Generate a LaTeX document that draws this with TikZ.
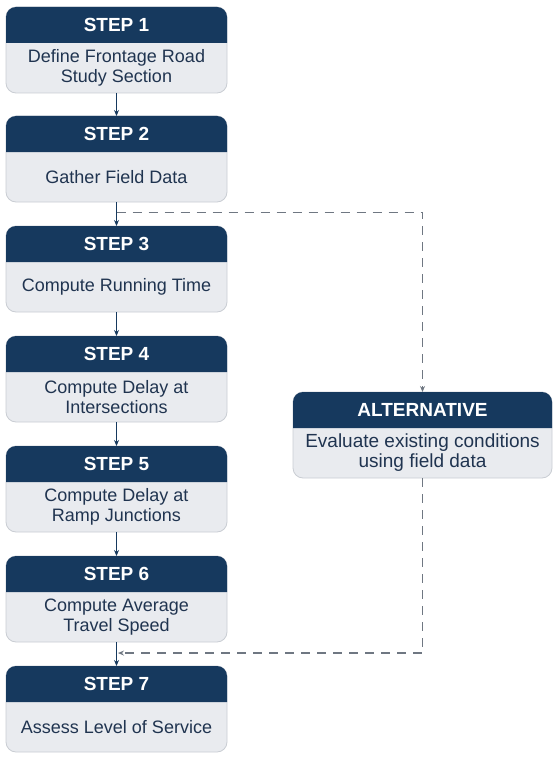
\documentclass[tikz,border=0pt]{standalone}
\usepackage{fontspec}
\setmainfont{Liberation Sans}
\usetikzlibrary{arrows.meta,calc}
\definecolor{navy}{HTML}{16395E}
\definecolor{bodyfill}{HTML}{E9EBEF}
\definecolor{bodyline}{HTML}{C9CDD3}
\definecolor{txt}{HTML}{203450}
\definecolor{dash}{HTML}{6F7782}
\tikzset{
  boxshape/.style={draw=bodyline, fill=bodyfill, line width=0.8pt, rounded corners=10pt,
    minimum width=#1, minimum height=86pt, inner sep=0pt, outer sep=0pt},
  hdrtext/.style={text=white, font=\bfseries\fontsize{19}{21}\selectfont},
  bodytext/.style={text=txt, font=\fontsize{18}{19.5}\selectfont, align=center},
  altbodytext/.style={bodytext, font=\fontsize{19}{20}\selectfont},
  flow/.style={draw=navy, line width=0.9pt, -{Stealth[length=6pt,width=5pt]}},
  altflow/.style={draw=dash, line width=1.1pt, dash pattern=on 9pt off 7pt},
  altarrow/.style={-{Stealth[length=6pt,width=5pt]}}
}
\newcommand\mkstep[7]{% name, cx, top, width, title, body, body style
  \node[boxshape=#4, anchor=north] (#1) at (#2,#3) {};
  \fill[navy] ([yshift=-36pt]#1.north west) {[rounded corners=10pt] -- (#1.north west) -- (#1.north east)} -- ([yshift=-36pt]#1.north east) -- cycle;
  \node[hdrtext] (#1h) at ([yshift=-18pt]#1.north) {#5};
  \node[#7] (#1b) at ([yshift=25pt]#1.south) {#6};
}
\begin{document}
\begin{tikzpicture}[x=1pt,y=-1pt]
\useasboundingbox (0,0) rectangle (557,757);
\mkstep{s1}{116.5}{7}{221pt}{STEP 1}{Define Frontage Road\\Study Section}{bodytext}
\mkstep{s2}{116.5}{116}{221pt}{STEP 2}{Gather Field Data}{bodytext}
\mkstep{s3}{116.5}{226}{221pt}{STEP 3}{Compute Running Time}{bodytext}
\mkstep{s4}{116.5}{336}{221pt}{STEP 4}{Compute Delay at\\Intersections}{bodytext}
\mkstep{s5}{116.5}{446}{221pt}{STEP 5}{Compute Delay at\\Ramp Junctions}{bodytext}
\mkstep{s6}{116.5}{556}{221pt}{STEP 6}{Compute Average\\Travel Speed}{bodytext}
\mkstep{s7}{116.5}{666}{221pt}{STEP 7}{Assess Level of Service}{bodytext}
\mkstep{alt}{422.5}{392}{259pt}{ALTERNATIVE}{Evaluate existing conditions\\using field data}{altbodytext}
\draw[flow] (s1.south) -- (s2.north);
\draw[flow] (s2.south) -- (s3.north);
\draw[flow] (s3.south) -- (s4.north);
\draw[flow] (s4.south) -- (s5.north);
\draw[flow] (s5.south) -- (s6.north);
\draw[flow] (s6.south) -- (s7.north);
\coordinate (split) at ($(s2.south)!0.42!(s3.north)$);
\coordinate (join) at ($(s6.south)!0.46!(s7.north)$);
\draw[altflow, altarrow] (split) -| (alt.north);
\draw[altflow, altarrow] (alt.south) |- ([xshift=1.5pt]join);
\end{tikzpicture}
\end{document}
